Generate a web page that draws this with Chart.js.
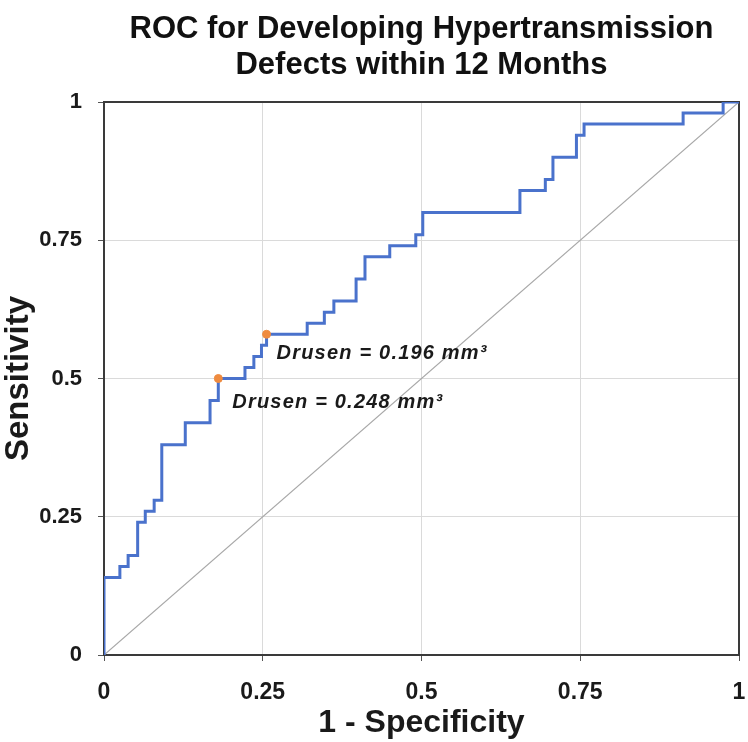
<!DOCTYPE html>
<html>
<head>
<meta charset="utf-8">
<title>ROC for Developing Hypertransmission Defects within 12 Months</title>
<script src="https://cdn.jsdelivr.net/npm/chart.js@4.4.1/dist/chart.umd.min.js"></script>
<style>
  html, body { margin: 0; padding: 0; background: #fff; }
  #wrap { width: 748px; height: 742px; }
</style>
</head>
<body>
<div id="wrap"><canvas id="rocChart" width="748" height="742"></canvas></div>
<script>
// ROC curve vertices (1 - specificity, sensitivity)
const fpr = [0, 0, 0.025, 0.038, 0.053, 0.065, 0.079, 0.091, 0.128, 0.167, 0.18,
             0.222, 0.236, 0.248, 0.256, 0.32, 0.347, 0.362, 0.397, 0.411, 0.45,
             0.491, 0.502, 0.655, 0.695, 0.707, 0.744, 0.756, 0.912, 0.975, 1];
const tpr = [0, 0.14, 0.16, 0.18, 0.24, 0.26, 0.28, 0.38, 0.42, 0.46, 0.50,
             0.52, 0.54, 0.56, 0.58, 0.60, 0.62, 0.64, 0.68, 0.72, 0.74,
             0.76, 0.80, 0.84, 0.86, 0.90, 0.94, 0.96, 0.98, 1.0, 1.0];

// highlighted cut-off points
const cutFpr = [0.18, 0.256];
const cutTpr = [0.50, 0.58];
const cutLabels = ['Drusen = 0.248 mm\u00B3', 'Drusen = 0.196 mm\u00B3'];

// reference (chance) line
const chanceX = [0, 1];
const chanceY = [0, 1];

const tickValues = [0, 0.25, 0.5, 0.75, 1];
const tickLabels = ['0', '0.25', '0.5', '0.75', '1'];

const toPoints = (xs, ys) => xs.map((x, i) => ({ x: x, y: ys[i] }));

// frame round the plot area
const framePlugin = {
    id: 'frame',
    beforeDatasetsDraw(chart) {
        const { ctx, chartArea: a } = chart;
        ctx.save();
        ctx.strokeStyle = '#3a3a3a';
        ctx.lineWidth = 2;
        ctx.strokeRect(a.left, a.top, a.right - a.left, a.bottom - a.top);
        ctx.restore();
    }
};

// text next to the cut-off points
const cutLabelPlugin = {
    id: 'cutLabels',
    afterDatasetsDraw(chart) {
        const { ctx, scales } = chart;
        const offsets = [{ dx: 14, dy: 24 }, { dx: 10, dy: 19 }];
        ctx.save();
        ctx.font = 'italic bold 20px "Liberation Sans", Arial, sans-serif';
        if ('letterSpacing' in ctx) ctx.letterSpacing = '1.2px';
        ctx.fillStyle = '#1a1a1a';
        ctx.textBaseline = 'middle';
        ctx.textAlign = 'left';
        cutLabels.forEach((label, i) => {
            const px = scales.x.getPixelForValue(cutFpr[i]);
            const py = scales.y.getPixelForValue(cutTpr[i]);
            ctx.fillText(label, px + offsets[i].dx, py + offsets[i].dy);
        });
        ctx.restore();
    }
};

const axisFont = { family: '"Liberation Sans", Arial, sans-serif', weight: 'bold' };

new Chart(document.getElementById('rocChart'), {
    type: 'scatter',
    data: {
        datasets: [{
            label: 'Cut-offs',
            data: toPoints(cutFpr, cutTpr),
            backgroundColor: '#ef8b3f',
            borderColor: '#ef8b3f',
            pointRadius: 4,
            showLine: false
        }, {
            label: 'ROC',
            data: toPoints(fpr, tpr),
            borderColor: '#4a72cc',
            borderWidth: 3,
            pointRadius: 0,
            showLine: true,
            stepped: 'before',
            fill: false
        }, {
            label: 'Chance',
            data: toPoints(chanceX, chanceY),
            borderColor: '#a8a8a8',
            borderWidth: 1.2,
            pointRadius: 0,
            showLine: true,
            fill: false
        }]
    },
    options: {
        responsive: false,
        animation: false,
        devicePixelRatio: 1,
        layout: { padding: { top: 0, right: 9, bottom: 0, left: 0 } },
        plugins: {
            legend: { display: false },
            tooltip: { enabled: false },
            title: {
                display: true,
                fullSize: false,
                text: ['ROC for Developing Hypertransmission', 'Defects within 12 Months'],
                color: '#111',
                font: { ...axisFont, size: 31, lineHeight: 1.15 },
                padding: { top: 12, bottom: 18.7 }
            }
        },
        scales: {
            x: {
                type: 'linear',
                min: 0,
                max: 1,
                afterBuildTicks: s => { s.ticks = tickValues.map(v => ({ value: v })); },
                afterFit: s => { s.height = 87; s.paddingLeft = 0; s.paddingRight = 0; },
                ticks: {
                    color: '#1a1a1a',
                    font: { ...axisFont, size: 23 },
                    padding: 18,
                    maxRotation: 0,
                    callback: v => tickLabels[tickValues.indexOf(v)]
                },
                grid: { color: '#dadada', lineWidth: 1, tickLength: 6, tickColor: '#555' },
                border: { display: false },
                title: {
                    display: true,
                    text: '1 - Specificity',
                    color: '#1a1a1a',
                    font: { ...axisFont, size: 32, lineHeight: 1 },
                    padding: { top: 0, bottom: 3 }
                }
            },
            y: {
                type: 'linear',
                min: 0,
                max: 1,
                afterBuildTicks: s => { s.ticks = tickValues.map(v => ({ value: v })); },
                afterFit: s => { s.width = 104; s.paddingTop = 0; s.paddingBottom = 0; },
                ticks: {
                    color: '#1a1a1a',
                    font: { ...axisFont, size: 22 },
                    padding: 16,
                    callback: v => tickLabels[tickValues.indexOf(v)]
                },
                grid: { color: '#dadada', lineWidth: 1, tickLength: 6, tickColor: '#555' },
                border: { display: false },
                title: {
                    display: true,
                    text: 'Sensitivity',
                    color: '#1a1a1a',
                    font: { ...axisFont, size: 33, lineHeight: 1 },
                    padding: { top: 2, bottom: 0 }
                }
            }
        }
    },
    plugins: [framePlugin, cutLabelPlugin]
});
</script>
</body>
</html>
